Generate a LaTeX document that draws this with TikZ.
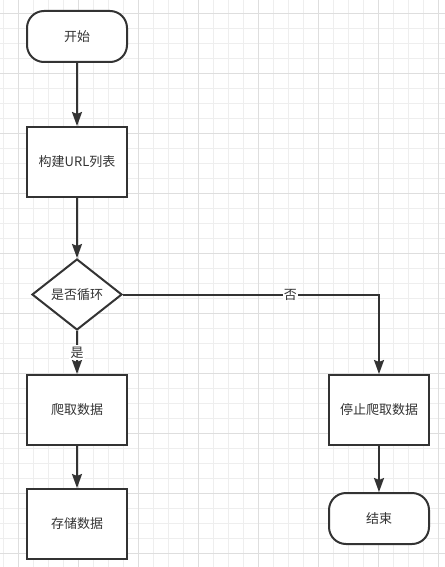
\documentclass[tikz,border=0pt]{standalone}
\usepackage{fontspec}
\setmainfont{Noto Sans CJK SC}
\usetikzlibrary{shapes.geometric,arrows.meta}
\definecolor{inkgray}{RGB}{51,51,51}
\definecolor{gridminor}{RGB}{238,238,238}
\definecolor{gridmajor}{RGB}{222,222,222}

\begin{document}
\begin{tikzpicture}[x=0.75pt,y=-0.75pt,
  every node/.style={font=\fontsize{9.75}{12}\selectfont,text=inkgray},
  termbox/.style={draw=inkgray,line width=1.5pt,fill=white,rounded corners=12.75pt,minimum width=75pt,minimum height=38.25pt,inner sep=0pt},
  procbox/.style={draw=inkgray,line width=1.5pt,fill=white,minimum width=75pt,minimum height=52.5pt,inner sep=0pt},
  decbox/.style={draw=inkgray,line width=1.5pt,fill=white,diamond,aspect=1.27,minimum width=67.5pt,minimum height=53.25pt,inner sep=0pt},
  flow/.style={draw=inkgray,line width=1.5pt,-{Stealth[length=10.5pt,width=7.5pt,inset=1.5pt]}},
  edgelabel/.style={fill=white,inner sep=1pt}]
\useasboundingbox (0,0) rectangle (445,567);
\fill[white] (0,0) rectangle (445,567);
\foreach \gx in {3,18,...,438} \draw[gridminor,line width=0.75pt] (\gx,0) -- (\gx,567);
\foreach \gy in {13.5,28.5,...,558} \draw[gridminor,line width=0.75pt] (0,\gy) -- (445,\gy);
\foreach \gx in {18,78,...,438} \draw[gridmajor,line width=0.75pt] (\gx,0) -- (\gx,567);
\foreach \gy in {13.5,73.5,...,558} \draw[gridmajor,line width=0.75pt] (0,\gy) -- (445,\gy);

\node[termbox] (start) at (77,36.5) {开始};
\node[procbox] (build) at (77,162) {构建URL列表};
\node[decbox] (loop) at (77,294.5) {是否循环};
\node[procbox] (crawl) at (77,410) {爬取数据};
\node[procbox] (store) at (77,524) {存储数据};
\node[procbox] (stop) at (379,410) {停止爬取数据};
\node[termbox] (finish) at (379,518.5) {结束};

\draw[flow] (start) -- (build);
\draw[flow] (build) -- (loop);
\draw[flow] (loop) -- node[edgelabel] {是} (crawl);
\draw[flow] (loop) -| node[edgelabel,pos=0.327] {否} (stop);
\draw[flow] (crawl) -- (store);
\draw[flow] (stop) -- (finish);
\end{tikzpicture}
\end{document}
